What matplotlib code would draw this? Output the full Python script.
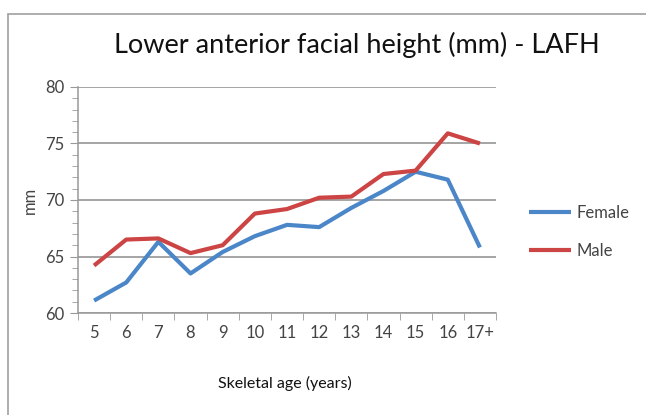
import numpy as np
import matplotlib
matplotlib.use('Agg')
import matplotlib.pyplot as plt
from matplotlib.patches import Rectangle
from matplotlib.ticker import MultipleLocator, FixedLocator

ages = ['5', '6', '7', '8', '9', '10', '11', '12', '13', '14', '15', '16', '17+']
female = [61.1, 62.7, 66.3, 63.5, 65.4, 66.8, 67.8, 67.6, 69.3, 70.8, 72.5, 71.8, 65.8]
male = [64.2, 66.5, 66.6, 65.3, 66.0, 68.8, 69.2, 70.2, 70.3, 72.3, 72.6, 75.9, 75.0]

plt.rcParams['font.family'] = ['Lato', 'DejaVu Sans']

W, H = 646, 415
fig = plt.figure(figsize=(W / 100, H / 100), dpi=100)
fig.patches.append(Rectangle((8 / W, -0.1), 1.2, 1 - 14 / H + 0.1, transform=fig.transFigure,
                             fill=False, edgecolor='#a0a0a0', linewidth=1.2))

ax = fig.add_axes([78 / W, 1 - 313 / H, (496 - 78) / W, (313 - 87) / H])
x = np.arange(len(ages))
ax.plot(x, female, color='#4a86c8', linewidth=3, label='Female', solid_capstyle='butt')
ax.plot(x, male, color='#cc4444', linewidth=3, label='Male', solid_capstyle='butt')

ax.set_xlim(-0.5, len(ages) - 0.5)
ax.set_ylim(60, 80)
ax.yaxis.set_major_locator(MultipleLocator(5))
ax.yaxis.set_minor_locator(MultipleLocator(1))
ax.xaxis.set_major_locator(FixedLocator(x))
ax.set_xticklabels(ages)
ax.xaxis.set_minor_locator(FixedLocator(np.arange(-0.5, len(ages), 1)))
ax.tick_params(axis='x', which='major', length=0, pad=9, labelsize=12, labelcolor='#444444')
ax.tick_params(axis='x', which='minor', length=5, color='#999999')
ax.tick_params(axis='y', which='major', length=6, color='#999999', labelsize=12, labelcolor='#444444', pad=4)
ax.tick_params(axis='y', which='minor', length=4, color='#999999')
ax.grid(axis='y', which='major', color='#8c8c8c', linewidth=1.1)
ax.set_axisbelow(True)
for s in ['top', 'right']:
    ax.spines[s].set_visible(False)
for s in ['left', 'bottom']:
    ax.spines[s].set_color('#999999')
    ax.spines[s].set_linewidth(1.1)

fig.text(357 / W, 1 - 45 / H, 'Lower anterior facial height (mm) - LAFH', ha='center', va='center',
         fontsize=19.5, color='#111111')
fig.text(30 / W, 1 - 200 / H, 'mm', rotation=90, ha='center', va='center', fontsize=12,
         color='#444444')
fig.text(285 / W, 1 - 383 / H, 'Skeletal age (years)', ha='center', va='center', fontsize=11.5,
         color='#111111')

ax.legend(loc='center left', bbox_to_anchor=(514 / W, 1 - 232 / H), bbox_transform=fig.transFigure,
          frameon=False, fontsize=12, handlelength=2.5, labelspacing=1.35, handletextpad=0.35,
          labelcolor='#444444')

fig.savefig('out.png', dpi=100)
